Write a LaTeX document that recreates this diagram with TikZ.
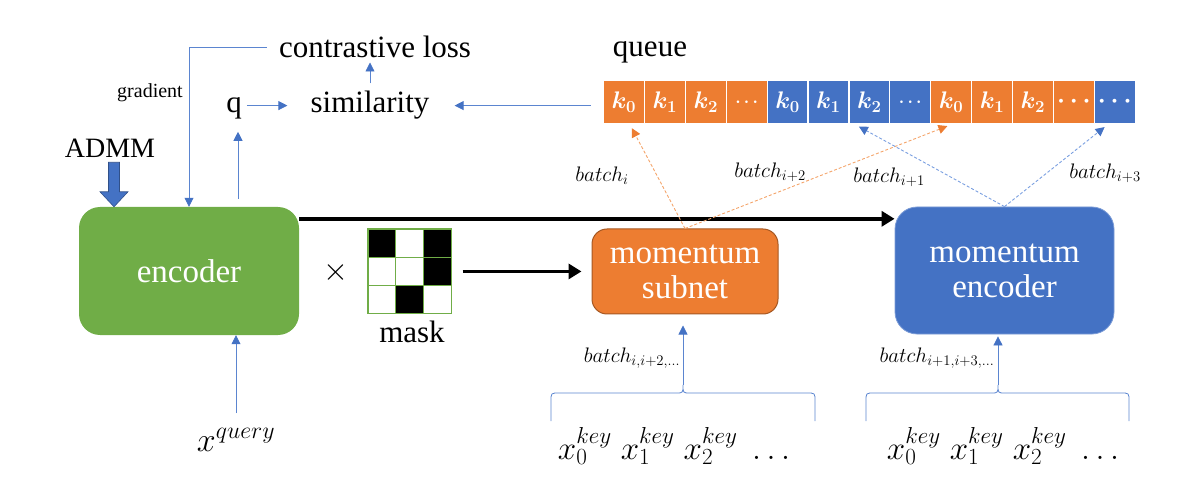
\RequirePackage{fix-cm}
\documentclass[tikz,border=0pt]{standalone}
\usepackage{fontspec}
\setmainfont{Liberation Serif}
\usepackage{bm}
\usetikzlibrary{arrows.meta,calc}
\definecolor{cgreen}{HTML}{70AD47}
\definecolor{corange}{HTML}{ED7D31}
\definecolor{cblue}{HTML}{4472C4}
\definecolor{cbline}{HTML}{5B85D0}
\definecolor{cdashb}{HTML}{7A9FE0}
\definecolor{cdasho}{HTML}{F4A46A}
\newcommand\fsz[1]{\fontsize{#1}{#1}\selectfont}
\newcommand\upbrace[3]{%
  \draw[cbline, line width=0.8pt] (#1,421) -- (#1,401) .. controls (#1,393) .. ({#1+8},393) -- ({#3-7},393) .. controls (#3,393) .. (#3,385) .. controls (#3,393) .. ({#3+7},393) -- ({#2-8},393) .. controls (#2,393) .. (#2,401) -- (#2,421);}
\begin{document}
\begin{tikzpicture}[x=1pt,y=-1pt,
  txt/.style={inner sep=2pt, anchor=base},
  bluearr/.style={draw=cbline, line width=0.8pt, -{Triangle[length=9pt,width=9pt,color=cblue]}},
  thickarr/.style={draw=black, line width=3.5pt, -{Triangle[length=13pt,width=15pt]}},
  dasharr/.style={line width=0.9pt, dash pattern=on 3pt off 2pt},
  box/.style={text=white, align=center, inner sep=0pt},
  qcell/.style={minimum width=40.9pt, minimum height=44pt, inner sep=0pt, draw=white, line width=1.2pt, text=white},
  mcell/.style={minimum width=27.7pt, minimum height=28.3pt, inner sep=0pt, draw=cgreen, line width=1.2pt},
  blbl/.style={font=\fsz{21}, inner sep=1pt},
]
\useasboundingbox (0,0) rectangle (1194,486);

% top texts
\node[txt, font=\fsz{31}] (loss) at (375,58) {contrastive loss};
\node[txt, font=\fsz{31}] (sim) at (370,113) {similarity};
\node[txt, font=\fsz{31}] (q) at (234,113) {q};
\node[txt, font=\fsz{31}] (queue) at (650,57) {queue};
\node[txt, font=\fsz{20}] (grad) at (150,98) {gradient};
\node[txt, font=\fsz{28}] (admm) at (110,158) {ADMM};

% boxes
\node[box, fill=cgreen, rounded corners=21pt, minimum width=220pt, minimum height=128pt, font=\fsz{33}] (enc) at (189,271) {encoder};
\node[box, fill=corange, draw=corange!70!black, line width=1pt, rounded corners=15pt, minimum width=186pt, minimum height=85pt, font=\fontsize{33}{35}\selectfont] (sub) at (685,271.5) {momentum\\subnet};
\node[box, fill=cblue, draw=cblue!70!white, line width=0.8pt, rounded corners=22pt, minimum width=219pt, minimum height=127pt, font=\fontsize{33}{35}\selectfont] (menc) at (1004.5,270.5) {momentum\\encoder};

% mask
\foreach \r/\c/\f in {0/0/black,0/1/white,0/2/black,1/0/white,1/1/white,1/2/black,2/0/white,2/1/black,2/2/white}
  \node[mcell, fill=\f] (m\r\c) at ({368+27.7*(\c+0.5)},{229+28.3*(\r+0.5)}) {};
\node[txt, font=\fsz{31}] (masklbl) at (412,342) {mask};
\node[font=\fsz{32}] (times) at (336,273) {$\times$};

% queue
\foreach \i/\col/\lab in {0/corange/{\fsz{24}$\bm{k_0}$},1/corange/{\fsz{24}$\bm{k_1}$},2/corange/{\fsz{24}$\bm{k_2}$},3/corange/{\fsz{17}$\bm{\cdots}$},
  4/cblue/{\fsz{24}$\bm{k_0}$},5/cblue/{\fsz{24}$\bm{k_1}$},6/cblue/{\fsz{24}$\bm{k_2}$},7/cblue/{\fsz{17}$\bm{\cdots}$},
  8/corange/{\fsz{24}$\bm{k_0}$},9/corange/{\fsz{24}$\bm{k_1}$},10/corange/{\fsz{24}$\bm{k_2}$},11/corange/{\fsz{25}$\bm{\cdots}$},12/cblue/{\fsz{25}$\bm{\cdots}$}}
  \node[qcell, fill=\col] (c\i) at ({603.5+40.9*(\i+0.5)},102) {\lab};

% inputs
\node[font=\fsz{34}] (xq) at (236,440) {$x^{query}$};
\node[font=\fsz{33}] (xkL) at (674,446) {$x_0^{key}\;x_1^{key}\;x_2^{key}\;\ldots$};
\node[font=\fsz{33}] (xkR) at (1003,446) {$x_0^{key}\;x_1^{key}\;x_2^{key}\;\ldots$};

% batch labels
\node[blbl] (bi) at (602,176) {$batch_i$};
\node[blbl] (bi2) at (770,172) {$batch_{i+2}$};
\node[blbl] (bi1) at (889,177) {$batch_{i+1}$};
\node[blbl] (bi3) at (1105,173) {$batch_{i+3}$};
\node[blbl] (bL) at (632,358) {$batch_{i,i+2,\ldots}$};
\node[blbl] (bR) at (937,358) {$batch_{i+1,i+3,\ldots}$};

% ADMM fat arrow
\coordinate (fatop) at ($(admm.south)+(4,2)$);
\coordinate (fatip) at (fatop |- enc.north);
\filldraw[fill=cblue, draw=cblue!70!black, line width=0.6pt]
  ($(fatop)+(-5.5,0)$) -- ($(fatop)+(5.5,0)$) -- ($(fatip)+(5.5,-15)$) -- ($(fatip)+(14,-15)$) -- (fatip)
  -- ($(fatip)+(-14,-15)$) -- ($(fatip)+(-5.5,-15)$) -- cycle;

% thin blue arrows
\draw[bluearr] ([xshift=-10pt]loss.west) -| (enc.north);
\coordinate (e2q) at ($(enc.north)+(49,-8)$);
\draw[bluearr, shorten >=10pt] (e2q) -- (e2q |- q.south);
\draw[bluearr, shorten <=3pt, shorten >=21pt] (q.east |- sim.west) -- (sim.west);
\draw[bluearr, shorten <=6pt, shorten >=2pt] (sim.north) -- (sim.north |- loss.south);
\draw[bluearr, shorten <=12pt, shorten >=23pt] (sim.east -| c0.west) -- (sim.east);
\draw[bluearr, shorten <=12pt] (xq.north) -- (xq.north |- enc.south);

% thick arrows
\draw[thickarr] ([yshift=-12pt]enc.north east) -- ([yshift=-12pt]enc.north east -| menc.west);
\draw[thickarr, shorten <=11pt, shorten >=10pt] (m12.east) -- (m12.east -| sub.west);

% dashed arrows to queue
\draw[dasharr, draw=cdasho, -{Triangle[length=9pt,width=9pt,color=corange]}, shorten >=4pt] (sub.north) -- ([xshift=6pt]c0.south);
\draw[dasharr, draw=cdasho, -{Triangle[length=9pt,width=9pt,color=corange]}, shorten >=4pt] (sub.north) -- (c8.south);
\draw[dasharr, draw=cdashb, -{Triangle[length=9pt,width=9pt,color=cblue]}, shorten >=4pt] (menc.north) -- ([xshift=-14pt]c6.south);
\draw[dasharr, draw=cdashb, -{Triangle[length=9pt,width=9pt,color=cblue]}, shorten >=4pt] (menc.north) -- ([xshift=-7pt]c12.south);

% braces and batch arrows
\upbrace{551}{815}{683}
\upbrace{866}{1129}{998}
\coordinate (btL) at (683,385);
\coordinate (btR) at (998,385);
\draw[bluearr, shorten >=11pt] (btL) -- (btL |- sub.south);
\draw[bluearr, shorten >=2pt] (btR) -- (btR |- menc.south);
\end{tikzpicture}
\end{document}
